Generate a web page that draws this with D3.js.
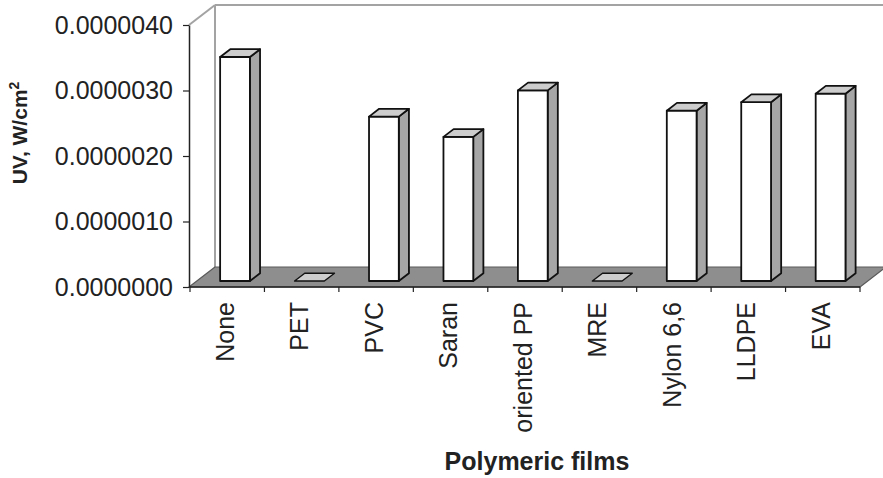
<!DOCTYPE html>
<html>
<head>
<meta charset="utf-8">
<script src="https://cdn.jsdelivr.net/npm/d3@7/dist/d3.min.js"></script>
<style>
  html, body { margin: 0; padding: 0; background: #fff; }
  svg { display: block; font-family: "Liberation Sans", Arial, sans-serif; }
</style>
</head>
<body>
<svg id="chart" width="883" height="478"></svg>
<script>
// UV irradiance transmitted through each polymeric film
const films = ["None", "PET", "PVC", "Saran", "oriented PP", "MRE", "Nylon 6,6", "LLDPE", "EVA"];
const uvValues = [3.42e-6, 0, 2.51e-6, 2.20e-6, 2.91e-6, 0, 2.60e-6, 2.73e-6, 2.86e-6];
const yTicks = [0, 1e-6, 2e-6, 3e-6, 4e-6];

const svg = d3.select("#chart");
const ink = "#222";

// front plane of the plot box
const x = d3.scaleBand().domain(films).range([190, 860]).paddingInner(0).paddingOuter(0);
const y = d3.scaleLinear().domain([0, 4e-6]).range([287, 25]);

// oblique depth of the 3-D box
const depth = { dx: 26, dy: -20 };
const barFront = 0.3;   // fraction of depth where the bar fronts sit
const barDepth = 0.39;  // depth of each bar as fraction of box depth
const barW = x.bandwidth() * 0.4;

const y0 = y(0);
const x0 = x.range()[0], x1 = x.range()[1];

// back wall and side wall outlines
const wall = svg.append("g").attr("stroke", "#a3a3a3").attr("stroke-width", 2).attr("fill", "none");
wall.append("line")
  .attr("x1", x0 - 1 + depth.dx).attr("y1", y(4e-6) + depth.dy)
  .attr("x2", 883).attr("y2", y(4e-6) + depth.dy);
wall.append("line")
  .attr("x1", x0 - 1 + depth.dx).attr("y1", y(4e-6) + depth.dy)
  .attr("x2", x0 - 1 + depth.dx).attr("y2", y0 + depth.dy);
wall.append("line")
  .attr("x1", x0 - 1).attr("y1", y(4e-6))
  .attr("x2", x0 - 1 + depth.dx).attr("y2", y(4e-6) + depth.dy);

// floor
const floorPts = [
  [x0 - 1, y0], [x1, y0],
  [x1 + depth.dx, y0 + depth.dy], [x0 - 1 + depth.dx, y0 + depth.dy]
];
svg.append("polygon")
  .attr("points", floorPts.map(p => p.join(",")).join(" "))
  .attr("fill", "#8e8e8e")
  .attr("stroke", "#5a5a5a")
  .attr("stroke-width", 1.2)
  .attr("stroke-linejoin", "round");

// bars
const bars = svg.append("g")
  .attr("stroke", "#111")
  .attr("stroke-width", 1.8)
  .attr("stroke-linejoin", "round");

films.forEach((f, i) => {
  const v = uvValues[i];
  const fx = x(f) + x.bandwidth() / 2 - barW / 2 + depth.dx * barFront;
  const base = y0 + depth.dy * barFront;
  const h = y0 - y(v);
  const top = base - h;
  const ddx = depth.dx * barDepth, ddy = depth.dy * barDepth;
  const g = bars.append("g");
  if (h > 0) {
    // side face
    g.append("polygon")
      .attr("points", [[fx + barW, base], [fx + barW + ddx, base + ddy], [fx + barW + ddx, top + ddy], [fx + barW, top]].map(p => p.join(",")).join(" "))
      .attr("fill", "#a6a6a6");
    // front face
    g.append("rect")
      .attr("x", fx).attr("y", top)
      .attr("width", barW).attr("height", h)
      .attr("fill", "#ffffff");
  }
  // top face
  g.append("polygon")
    .attr("points", [[fx, top], [fx + barW, top], [fx + barW + ddx, top + ddy], [fx + ddx, top + ddy]].map(p => p.join(",")).join(" "))
    .attr("fill", "#cdcdcd")
    .attr("stroke-width", h > 0 ? 1.8 : 1.4);
});

// value axis on the front-left edge
const yAxis = svg.append("g")
  .attr("transform", `translate(${x0 - 1},0)`)
  .call(d3.axisLeft(y).tickValues(yTicks).tickFormat(d3.format(".7f")).tickSize(6).tickSizeOuter(0).tickPadding(10));
yAxis.select(".domain").attr("stroke", ink).attr("stroke-width", 1.5);
yAxis.selectAll(".tick line").attr("stroke", ink).attr("stroke-width", 1.2);
yAxis.selectAll(".tick text")
  .attr("font-size", 25)
  .attr("fill", ink)
  .attr("font-family", "'Liberation Sans', Arial, sans-serif");

// category axis along the front edge of the floor
const xg = svg.append("g");
xg.append("line")
  .attr("x1", x0 - 1).attr("x2", x1).attr("y1", y0).attr("y2", y0)
  .attr("stroke", ink).attr("stroke-width", 1.5);
const tickXs = films.map(f => x(f)).concat([x1]);
xg.selectAll("line.tick").data(tickXs).join("line")
  .attr("class", "tick")
  .attr("x1", d => d).attr("x2", d => d)
  .attr("y1", y0).attr("y2", y0 + 5)
  .attr("stroke", ink).attr("stroke-width", 1.2);
xg.selectAll("text").data(films).join("text")
  .attr("transform", d => `translate(${x(d) + x.bandwidth() / 2 - 2},${y0 + 15}) rotate(-90)`)
  .attr("text-anchor", "end")
  .attr("dy", "0.35em")
  .attr("font-size", 25)
  .attr("fill", ink)
  .text(d => d);

// axis titles
svg.append("text")
  .attr("x", 537).attr("y", 470)
  .attr("text-anchor", "middle")
  .attr("font-size", 25)
  .attr("font-weight", "bold")
  .attr("fill", ink)
  .text("Polymeric films");

const yt = svg.append("text")
  .attr("transform", "translate(27,133) rotate(-90)")
  .attr("text-anchor", "middle")
  .attr("font-size", 21)
  .attr("font-weight", "bold")
  .attr("fill", ink);
yt.append("tspan").text("UV, W/cm");
yt.append("tspan").attr("font-size", 14).attr("dy", "-0.55em").text("2");
</script>
</body>
</html>
